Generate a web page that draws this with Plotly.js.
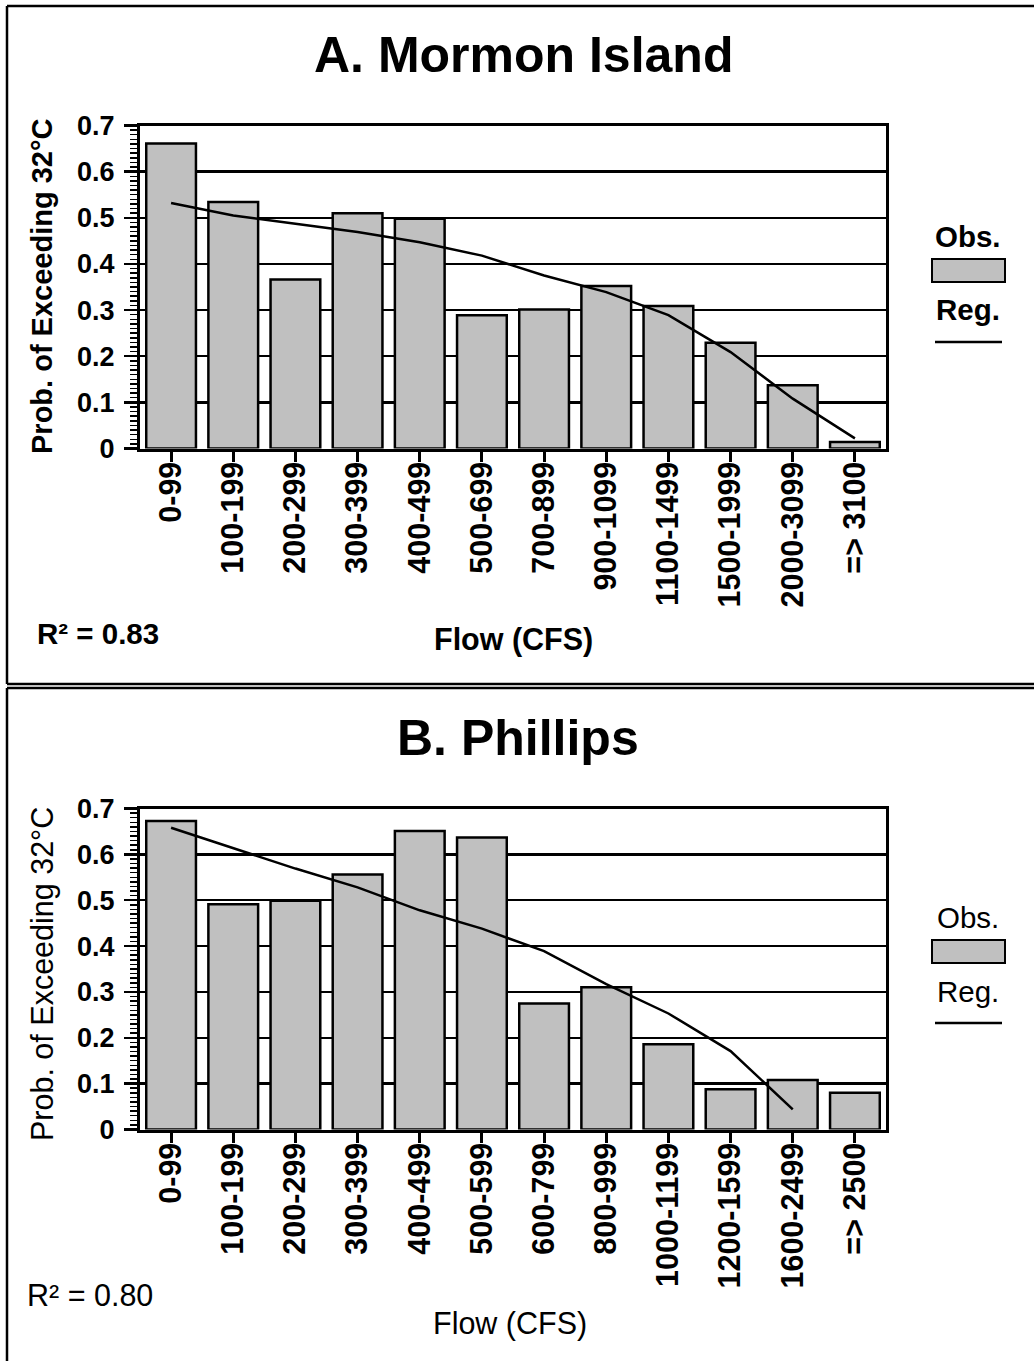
<!DOCTYPE html>
<html>
<head>
<meta charset="utf-8">
<script src="https://cdn.plot.ly/plotly-3.0.1.min.js"></script>
<style>html,body{margin:0;padding:0;background:#fff;}#chart{width:1034px;height:1361px;}</style>
</head>
<body>
<div id="chart"></div>
<script>
// ---- Data ----
const mormonFlowCategories = ["0-99","100-199","200-299","300-399","400-499","500-699","700-899","900-1099","1100-1499","1500-1999","2000-3099","=> 3100"];
const mormonObserved = [0.661,0.534,0.366,0.510,0.498,0.289,0.301,0.352,0.309,0.229,0.137,0.014];
const mormonRegression = [0.532,0.505,0.487,0.469,0.447,0.418,0.375,0.339,0.289,0.209,0.108,0.022];
const mormonR2 = "R² = 0.83";

const phillipsFlowCategories = ["0-99","100-199","200-299","300-399","400-499","500-599","600-799","800-999","1000-1199","1200-1599","1600-2499","=> 2500"];
const phillipsObserved = [0.673,0.491,0.499,0.556,0.651,0.637,0.275,0.310,0.186,0.088,0.108,0.080];
const phillipsRegression = [0.658,0.613,0.569,0.528,0.478,0.438,0.389,0.317,0.253,0.171,0.044,null];
const phillipsR2 = "R² = 0.80";

const yTickValues = [0,0.1,0.2,0.3,0.4,0.5,0.6,0.7];
const yTickLabels = ["0","0.1","0.2","0.3","0.4","0.5","0.6","0.7"];

// ---- Helpers ----
const W = 1034, H = 1361;
const px = v => v / W;
const py = v => 1 - v / H;
const FONT = "Liberation Sans, Arial, sans-serif";

function barTrace(x, y, xa, ya, name) {
  return {type:"bar", x:x, y:y, xaxis:xa, yaxis:ya, name:name,
    marker:{color:"#c0c0c0", line:{color:"#000", width:2.5}}, showlegend:false, hoverinfo:"x+y"};
}
function lineTrace(x, y, xa, ya, name) {
  return {type:"scatter", mode:"lines", x:x, y:y, xaxis:xa, yaxis:ya, name:name,
    line:{color:"#000", width:2.5}, showlegend:false, connectgaps:false};
}
function xAxis(cats, dom, anchor) {
  return {domain:dom, anchor:anchor, type:"category", categoryorder:"array", categoryarray:cats,
    range:[-0.5, cats.length-0.5], showline:true, linecolor:"#000", linewidth:3, mirror:true,
    ticks:"outside", ticklen:10, tickwidth:3, tickcolor:"#000", tickangle:-90, ticklabelstandoff:-12,
    tickfont:{family:FONT, size:30.5, color:"#000", weight:"bold"}, showgrid:false, zeroline:false, fixedrange:true};
}
function yAxis(dom, anchor) {
  return {domain:dom, anchor:anchor, range:[0,0.7], tickvals:yTickValues, ticktext:yTickLabels,
    showline:true, linecolor:"#000", linewidth:3, mirror:true,
    ticks:"outside", ticklen:13, tickwidth:2.5, tickcolor:"#000", ticklabelstandoff:4,
    minor:{tickmode:"linear", dtick:0.01, ticks:"outside", ticklen:7, tickwidth:1.5, tickcolor:"#000", showgrid:false},
    tickfont:{family:FONT, size:27, color:"#000", weight:"bold"},
    showgrid:true, gridcolor:"#000", gridwidth:2.5, zeroline:false, fixedrange:true};
}

const data = [
  barTrace(mormonFlowCategories, mormonObserved, "x", "y", "Obs."),
  lineTrace(mormonFlowCategories, mormonRegression, "x", "y", "Reg."),
  barTrace(phillipsFlowCategories, phillipsObserved, "x2", "y2", "Obs."),
  lineTrace(phillipsFlowCategories, phillipsRegression, "x2", "y2", "Reg.")
];

function ann(text, x, y, size, bold, opts) {
  return Object.assign({text:text, x:px(x), y:py(y), xref:"paper", yref:"paper", showarrow:false,
    xanchor:"center", yanchor:"middle",
    font:{family:FONT, size:size, color:"#000", weight: bold ? "bold" : "normal"}}, opts || {});
}

const annotations = [
  ann("A. Mormon Island", 523, 55, 50, true),
  ann("Prob. of Exceeding 32°C", 42, 286, 29, true, {textangle:-90}),
  ann("Flow (CFS)", 513, 639, 30.5, true),
  ann(mormonR2, 35, 633, 29.5, true, {xanchor:"left"}),
  ann("Obs.", 968, 236, 29.5, true),
  ann("Reg.", 968, 309, 29.5, true),

  ann("B. Phillips", 518, 738, 50, true),
  ann("Prob. of Exceeding 32°C", 42, 974, 30.5, false, {textangle:-90}),
  ann("Flow (CFS)", 510, 1323, 30.5, false),
  ann(phillipsR2, 25, 1295, 30.5, false, {xanchor:"left"}),
  ann("Obs.", 968, 917, 29.5, false),
  ann("Reg.", 968, 991, 29.5, false)
];

function pline(x0,y0,x1,y1,w,color) {
  return {type:"line", xref:"paper", yref:"paper", x0:px(x0), y0:py(y0), x1:px(x1), y1:py(y1),
    line:{color:color||"#000", width:w}};
}
const shapes = [
  // panel frames
  pline(7,6,1040,6,2.5), pline(7,6,7,684,2.5), pline(7,684,1040,684,2.5),
  pline(7,688,1040,688,2.5), pline(7,688,7,1370,2.5),
  // legend keys
  {type:"rect", xref:"paper", yref:"paper", x0:px(932), x1:px(1005), y0:py(259), y1:py(282),
    fillcolor:"#c0c0c0", line:{color:"#000", width:2}},
  pline(935,342,1002,342,2.5),
  {type:"rect", xref:"paper", yref:"paper", x0:px(932), x1:px(1005), y0:py(940), y1:py(963),
    fillcolor:"#c0c0c0", line:{color:"#000", width:2}},
  pline(935,1023,1002,1023,2.5)
];

const layout = {
  width:W, height:H, margin:{l:0,r:0,t:0,b:0}, paper_bgcolor:"#fff", plot_bgcolor:"#fff",
  showlegend:false, bargap:0.2,
  font:{family:FONT, color:"#000"},
  xaxis: xAxis(mormonFlowCategories, [px(140), px(886)], "y"),
  yaxis: yAxis([py(448.5), py(125.5)], "x"),
  xaxis2: xAxis(phillipsFlowCategories, [px(140), px(886)], "y2"),
  yaxis2: yAxis([py(1129.5), py(808.5)], "x2"),
  annotations: annotations,
  shapes: shapes
};

Plotly.newPlot("chart", data, layout, {staticPlot:true, displayModeBar:false});
</script>
</body>
</html>
